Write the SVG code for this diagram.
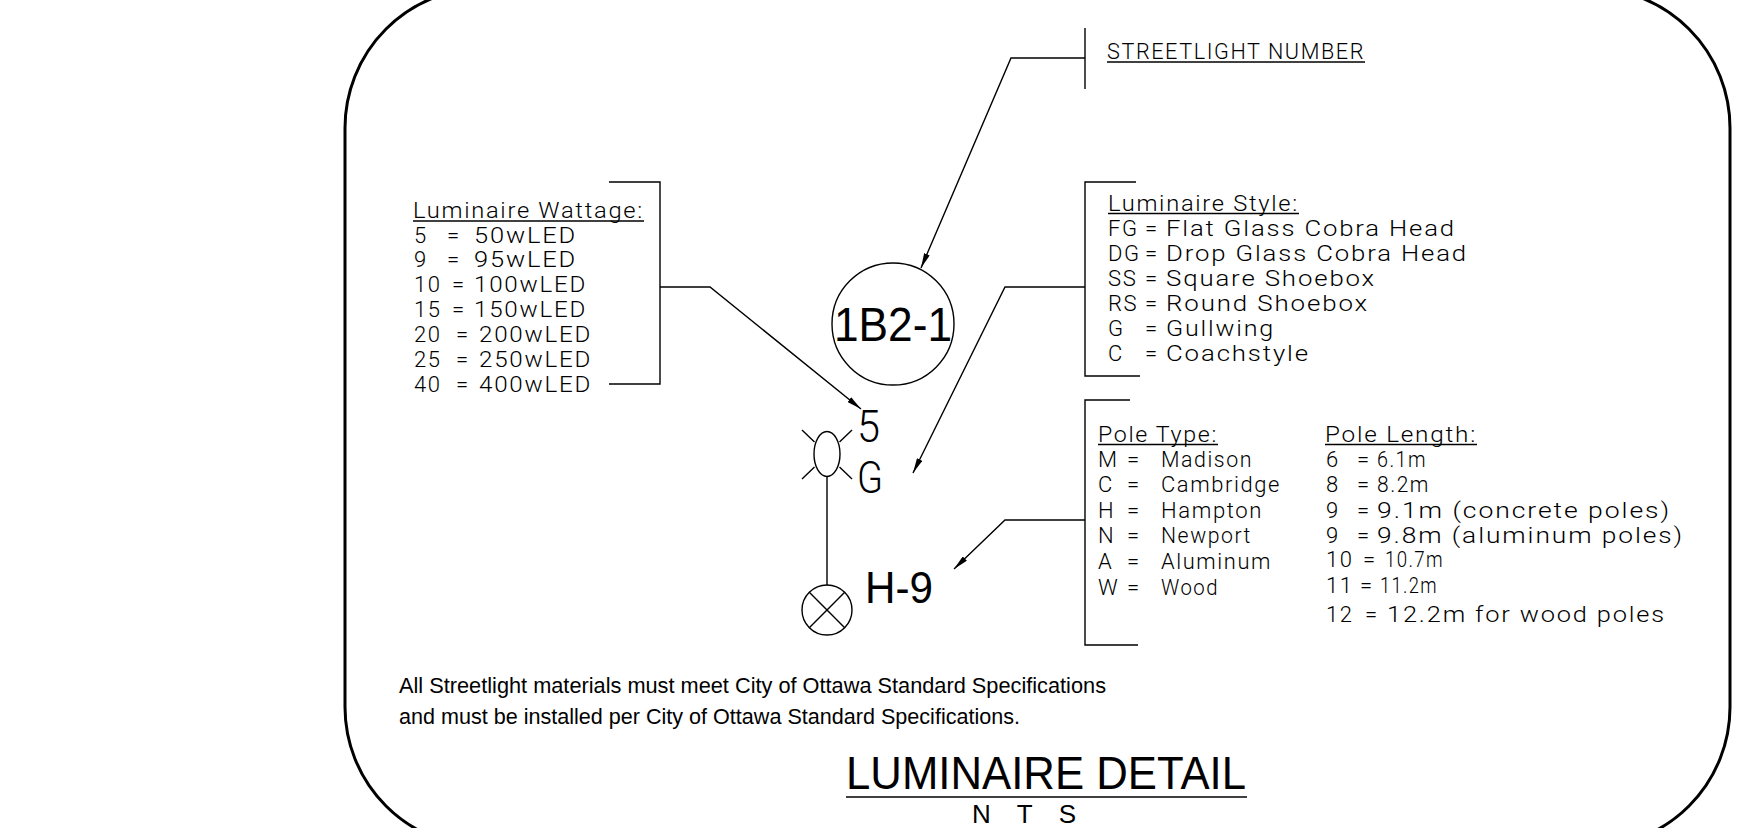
<svg xmlns="http://www.w3.org/2000/svg" width="1741" height="828" viewBox="0 0 1741 828">
<style>
.cad{font-family:Roboto,"Open Sans","DejaVu Sans",sans-serif;font-weight:300;font-size:22px;letter-spacing:1.6px;fill:#000}
.big{font-family:Roboto,"Open Sans","DejaVu Sans",sans-serif;font-weight:300;font-size:45px;fill:#000}
.arial{font-family:"Liberation Sans",Arial,sans-serif;fill:#000}
.ln{stroke:#000;stroke-width:1.4;fill:none}
.ul{stroke:#000;stroke-width:1.3}
.border{stroke:#000;stroke-width:3;fill:none}
</style>
<defs>
<marker id="arr" viewBox="0 0 15 6" refX="15" refY="3" markerWidth="15" markerHeight="6" markerUnits="userSpaceOnUse" orient="auto">
<path d="M0,0 L15,3 L0,6 Z" fill="#000"/>
</marker>
</defs>
<rect width="1741" height="828" fill="#fff"/>

<g id="frame">
<rect class="border" x="345" y="-12" width="1385" height="859" rx="140" ry="140"/>
</g>

<g id="connectors">
<path class="ln" d="M1085,58 L1011,58 L921,268" marker-end="url(#arr)"/>
<path class="ln" d="M660,287 L710,287 L861,409" marker-end="url(#arr)"/>
<path class="ln" d="M1085,287 L1005,287 L913,473" marker-end="url(#arr)"/>
<path class="ln" d="M1085,520 L1005,520 L954,569" marker-end="url(#arr)"/>
</g>

<g id="streetlight-number">
<line class="ln" x1="1085" y1="28" x2="1085" y2="89"/>
<text class="cad" x="1107" y="59" textLength="258" lengthAdjust="spacingAndGlyphs">STREETLIGHT NUMBER</text>
<line class="ul" x1="1107" y1="62" x2="1365" y2="62"/>
</g>

<g id="wattage-legend">
<path class="ln" d="M609,182 L660,182 L660,384 L609,384"/>
<text class="cad" x="413" y="218" textLength="231" lengthAdjust="spacingAndGlyphs">Luminaire Wattage:</text>
<line class="ul" x1="413" y1="221" x2="644" y2="221"/>
<text class="cad" y="242.5"><tspan x="414">5</tspan> <tspan x="447">=</tspan> <tspan x="474" textLength="103" lengthAdjust="spacingAndGlyphs">50wLED</tspan></text>
<text class="cad" y="267"><tspan x="414">9</tspan> <tspan x="447">=</tspan> <tspan x="474" textLength="103" lengthAdjust="spacingAndGlyphs">95wLED</tspan></text>
<text class="cad" y="292"><tspan x="414">10</tspan> <tspan x="452">=</tspan> <tspan x="474" textLength="113" lengthAdjust="spacingAndGlyphs">100wLED</tspan></text>
<text class="cad" y="317"><tspan x="414">15</tspan> <tspan x="452">=</tspan> <tspan x="474" textLength="113" lengthAdjust="spacingAndGlyphs">150wLED</tspan></text>
<text class="cad" y="342"><tspan x="414">20</tspan> <tspan x="456">=</tspan> <tspan x="479" textLength="113" lengthAdjust="spacingAndGlyphs">200wLED</tspan></text>
<text class="cad" y="367"><tspan x="414">25</tspan> <tspan x="456">=</tspan> <tspan x="479" textLength="113" lengthAdjust="spacingAndGlyphs">250wLED</tspan></text>
<text class="cad" y="391.5"><tspan x="414">40</tspan> <tspan x="456">=</tspan> <tspan x="479" textLength="113" lengthAdjust="spacingAndGlyphs">400wLED</tspan></text>
</g>

<g id="style-legend">
<path class="ln" d="M1136,182 L1085,182 L1085,376 L1140,376"/>
<text class="cad" x="1108" y="210.5" textLength="191" lengthAdjust="spacingAndGlyphs">Luminaire Style:</text>
<line class="ul" x1="1108" y1="213.5" x2="1299" y2="213.5"/>
<text class="cad" y="235.5"><tspan x="1108">FG</tspan> <tspan x="1145">=</tspan> <tspan x="1166" textLength="290" lengthAdjust="spacingAndGlyphs">Flat Glass Cobra Head</tspan></text>
<text class="cad" y="260.5"><tspan x="1108">DG</tspan> <tspan x="1145">=</tspan> <tspan x="1166" textLength="302" lengthAdjust="spacingAndGlyphs">Drop Glass Cobra Head</tspan></text>
<text class="cad" y="285.5"><tspan x="1108">SS</tspan> <tspan x="1145">=</tspan> <tspan x="1166" textLength="210" lengthAdjust="spacingAndGlyphs">Square Shoebox</tspan></text>
<text class="cad" y="310.5"><tspan x="1108">RS</tspan> <tspan x="1145">=</tspan> <tspan x="1166" textLength="203" lengthAdjust="spacingAndGlyphs">Round Shoebox</tspan></text>
<text class="cad" y="335.5"><tspan x="1108">G</tspan> <tspan x="1145">=</tspan> <tspan x="1166" textLength="109" lengthAdjust="spacingAndGlyphs">Gullwing</tspan></text>
<text class="cad" y="360.5"><tspan x="1108">C</tspan> <tspan x="1145">=</tspan> <tspan x="1166" textLength="144" lengthAdjust="spacingAndGlyphs">Coachstyle</tspan></text>
</g>

<g id="pole-legend">
<path class="ln" d="M1130,400 L1085,400 L1085,645 L1138,645"/>
<text class="cad" x="1098" y="441.5" textLength="120" lengthAdjust="spacingAndGlyphs">Pole Type:</text>
<line class="ul" x1="1098" y1="444.5" x2="1218" y2="444.5"/>
<text class="cad" y="467"><tspan x="1098">M</tspan> <tspan x="1127">=</tspan> <tspan x="1161" textLength="92" lengthAdjust="spacingAndGlyphs">Madison</tspan></text>
<text class="cad" y="492"><tspan x="1098">C</tspan> <tspan x="1127">=</tspan> <tspan x="1161" textLength="120" lengthAdjust="spacingAndGlyphs">Cambridge</tspan></text>
<text class="cad" y="517.5"><tspan x="1098">H</tspan> <tspan x="1127">=</tspan> <tspan x="1161" textLength="102" lengthAdjust="spacingAndGlyphs">Hampton</tspan></text>
<text class="cad" y="543"><tspan x="1098">N</tspan> <tspan x="1127">=</tspan> <tspan x="1161" textLength="91" lengthAdjust="spacingAndGlyphs">Newport</tspan></text>
<text class="cad" y="568.5"><tspan x="1098">A</tspan> <tspan x="1127">=</tspan> <tspan x="1161" textLength="111" lengthAdjust="spacingAndGlyphs">Aluminum</tspan></text>
<text class="cad" y="594.5"><tspan x="1098">W</tspan> <tspan x="1127">=</tspan> <tspan x="1161" textLength="58" lengthAdjust="spacingAndGlyphs">Wood</tspan></text>

<text class="cad" x="1325" y="441.5" textLength="152" lengthAdjust="spacingAndGlyphs">Pole Length:</text>
<line class="ul" x1="1325" y1="444.5" x2="1477" y2="444.5"/>
<text class="cad" y="467"><tspan x="1326">6</tspan> <tspan x="1357">=</tspan> <tspan x="1377" textLength="50" lengthAdjust="spacingAndGlyphs">6.1m</tspan></text>
<text class="cad" y="492"><tspan x="1326">8</tspan> <tspan x="1357">=</tspan> <tspan x="1377" textLength="53" lengthAdjust="spacingAndGlyphs">8.2m</tspan></text>
<text class="cad" y="517.5"><tspan x="1326">9</tspan> <tspan x="1357">=</tspan> <tspan x="1377" textLength="294" lengthAdjust="spacingAndGlyphs">9.1m (concrete poles)</tspan></text>
<text class="cad" y="543"><tspan x="1326">9</tspan> <tspan x="1357">=</tspan> <tspan x="1377" textLength="307" lengthAdjust="spacingAndGlyphs">9.8m (aluminum poles)</tspan></text>
<text class="cad" y="567"><tspan x="1326">10</tspan> <tspan x="1363">=</tspan> <tspan x="1385" textLength="59" lengthAdjust="spacingAndGlyphs">10.7m</tspan></text>
<text class="cad" y="592.5"><tspan x="1326">11</tspan> <tspan x="1360">=</tspan> <tspan x="1380" textLength="58" lengthAdjust="spacingAndGlyphs">11.2m</tspan></text>
<text class="cad" y="621.5"><tspan x="1326">12</tspan> <tspan x="1365">=</tspan> <tspan x="1387" textLength="279" lengthAdjust="spacingAndGlyphs">12.2m for wood poles</tspan></text>
</g>

<g id="streetlight-id">
<circle class="ln" cx="893" cy="324" r="61"/>
<text class="arial" x="893" y="341" font-size="49" text-anchor="middle" textLength="118" lengthAdjust="spacingAndGlyphs">1B2-1</text>
</g>

<g id="luminaire-symbol">
<ellipse class="ln" cx="827" cy="454" rx="13" ry="22.5"/>
<line class="ln" x1="802" y1="430" x2="814.5" y2="442"/>
<line class="ln" x1="852" y1="430" x2="839.5" y2="442"/>
<line class="ln" x1="802" y1="479" x2="814.5" y2="467"/>
<line class="ln" x1="852" y1="479" x2="839.5" y2="467"/>
<line class="ln" x1="827" y1="476.5" x2="827" y2="585"/>
<circle class="ln" cx="827" cy="610" r="25"/>
<line class="ln" x1="809.3" y1="592.3" x2="844.7" y2="627.7"/>
<line class="ln" x1="844.7" y1="592.3" x2="809.3" y2="627.7"/>
</g>

<g id="symbol-labels">
<text class="big" x="857" y="442" textLength="23" lengthAdjust="spacingAndGlyphs">5</text>
<text class="big" x="857" y="493" textLength="26" lengthAdjust="spacingAndGlyphs">G</text>
<text class="arial" x="865" y="603" font-size="44" textLength="68" lengthAdjust="spacingAndGlyphs">H-9</text>
</g>

<g id="notes">
<text class="arial" x="399" y="693" font-size="21.6" textLength="707" lengthAdjust="spacingAndGlyphs">All Streetlight materials must meet City of Ottawa Standard Specifications</text>
<text class="arial" x="399" y="724" font-size="21.6" textLength="621" lengthAdjust="spacingAndGlyphs">and must be installed per City of Ottawa Standard Specifications.</text>
</g>

<g id="title">
<text class="arial" x="846" y="789" font-size="47" textLength="400" lengthAdjust="spacingAndGlyphs">LUMINAIRE DETAIL</text>
<line class="ul" x1="846" y1="797" x2="1247" y2="797" stroke-width="1.6"/>
<text class="arial" x="972" y="822.5" font-size="26" textLength="104" lengthAdjust="spacing">N T S</text>
</g>
</svg>
